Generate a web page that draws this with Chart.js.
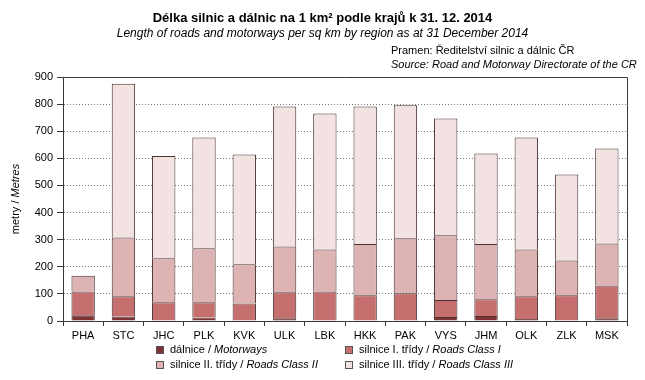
<!DOCTYPE html>
<html>
<head>
<meta charset="utf-8">
<script src="https://cdn.jsdelivr.net/npm/chart.js@4.4.1/dist/chart.umd.min.js"></script>
<style>
  html, body { margin: 0; padding: 0; background: #fff; }
  #wrap { position: relative; width: 645px; height: 380px; overflow: hidden; font-family: "Liberation Sans", Arial, sans-serif; color: #000; }
  #c { position: absolute; left: 0; top: 0; }
  .t { position: absolute; white-space: nowrap; line-height: 1; }
  .box { position: absolute; width: 8px; height: 8px; border: 1px solid #555; box-sizing: border-box; }
</style>
</head>
<body>
<div id="wrap">
  <canvas id="c" width="645" height="380"></canvas>
  <div class="t" id="title" style="left:0;width:645px;text-align:center;top:11px;font-size:13px;font-weight:bold;">Délka silnic a dálnic na 1 km² podle krajů k 31. 12. 2014</div>
  <div class="t" style="left:0;width:645px;text-align:center;top:27px;font-size:12px;font-style:italic;">Length of roads and motorways per sq km by region as at 31 December 2014</div>
  <div class="t" style="left:391px;top:45px;font-size:11px;">Pramen: Ředitelství silnic a dálnic ČR</div>
  <div class="t" style="left:391px;top:59px;font-size:11px;font-style:italic;">Source: Road and Motorway Directorate of the CR</div>
  <div class="t" style="left:-44px;top:193px;width:120px;height:12px;text-align:center;font-size:11px;font-weight:normal;color:#000;transform:rotate(-90deg);transform-origin:60px 6px;">metry / <i>Metres</i></div>
  <div id="legend"></div>
</div>
<script>
const categories = ['PHA','STC','JHC','PLK','KVK','ULK','LBK','HKK','PAK','VYS','JHM','OLK','ZLK','MSK'];
const motorways   = [21, 17, 0, 13, 0, 10, 0, 0, 0, 15, 18, 7, 0, 10];
const roadsClass1 = [88, 74, 69, 56, 65, 96, 109, 95, 102, 62, 62, 84, 95, 121];
const roadsClass2 = [58, 217, 162, 199, 144, 169, 155, 189, 203, 239, 204, 173, 128, 155];
const roadsClass3 = [0, 567, 378, 409, 405, 516, 501, 507, 491, 431, 334, 413, 317, 350];
const seriesCz = ['dálnice', 'silnice I. třídy', 'silnice II. třídy', 'silnice III. třídy'];
const seriesEn = ['Motorways', 'Roads Class I', 'Roads Class II', 'Roads Class III'];
const yTicks = [0, 100, 200, 300, 400, 500, 600, 700, 800, 900];

const colors = ['#7e3232', '#c56f6f', '#ddb3b3', '#f2e2e2'];
const edge = '#4a3232';
const values = [motorways, roadsClass1, roadsClass2, roadsClass3];

const datasets = values.map((v, i) => ({
  label: seriesCz[i] + ' / ' + seriesEn[i],
  data: v,
  backgroundColor: colors[i],
  borderColor: edge,
  borderWidth: 1,
  borderSkipped: 'bottom',
  barPercentage: 0.58,
  categoryPercentage: 1.0
}));

const frame = {
  id: 'frame',
  afterDraw(chart) {
    const {ctx, chartArea: a} = chart;
    ctx.save();
    ctx.strokeStyle = '#3a3a3a';
    ctx.lineWidth = 1;
    ctx.beginPath();
    ctx.moveTo(Math.round(a.left) + 0.5, Math.round(a.top) + 0.5);
    ctx.lineTo(Math.round(a.right) + 0.5, Math.round(a.top) + 0.5);
    ctx.lineTo(Math.round(a.right) + 0.5, Math.round(a.bottom) + 0.5);
    ctx.stroke();
    ctx.restore();
  }
};

new Chart(document.getElementById('c'), {
  type: 'bar',
  data: { labels: categories, datasets },
  options: {
    responsive: false,
    animation: false,
    layout: { padding: { left: 0, top: 77, right: 18, bottom: 0 } },
    plugins: { legend: { display: false }, title: { display: false }, tooltip: { enabled: false } },
    scales: {
      x: {
        stacked: true,
        offset: true,
        afterFit: s => { s.height = 59; },
        grid: { drawOnChartArea: false, drawTicks: true, tickLength: 5, tickColor: '#3a3a3a', offset: true },
        border: { color: '#3a3a3a', width: 1 },
        ticks: { color: '#000', font: { family: 'Liberation Sans', size: 11 }, padding: 3, maxRotation: 0, autoSkip: false }
      },
      y: {
        stacked: true,
        min: 0,
        max: 900,
        afterFit: s => { s.width = 63; },
        afterBuildTicks: s => { s.ticks = yTicks.map(v => ({ value: v })); },
        grid: {
          color: c => (c.tick && (c.tick.value === 0 || c.tick.value === 900)) ? 'rgba(0,0,0,0)' : '#7a7a7a',
          tickColor: '#3a3a3a',
          tickLength: 6,
          tickBorderDash: []
        },
        border: { color: '#3a3a3a', width: 1, dash: [1, 2] },
        ticks: { color: '#000', font: { family: 'Liberation Sans', size: 11 }, padding: 4 }
      }
    }
  },
  plugins: [frame]
});

const legendPos = [[156, 346, 170, 343.5], [345, 346, 359, 343.5], [156, 361, 170, 358.5], [345, 361, 359, 358.5]];
const lg = document.getElementById('legend');
legendPos.forEach((p, i) => {
  const b = document.createElement('div');
  b.className = 'box';
  b.style.left = p[0] + 'px'; b.style.top = p[1] + 'px';
  b.style.background = colors[i];
  lg.appendChild(b);
  const t = document.createElement('div');
  t.className = 't';
  t.style.left = p[2] + 'px'; t.style.top = p[3] + 'px'; t.style.fontSize = '11px';
  t.innerHTML = seriesCz[i] + ' / <i>' + seriesEn[i] + '</i>';
  lg.appendChild(t);
});
</script>
</body>
</html>
